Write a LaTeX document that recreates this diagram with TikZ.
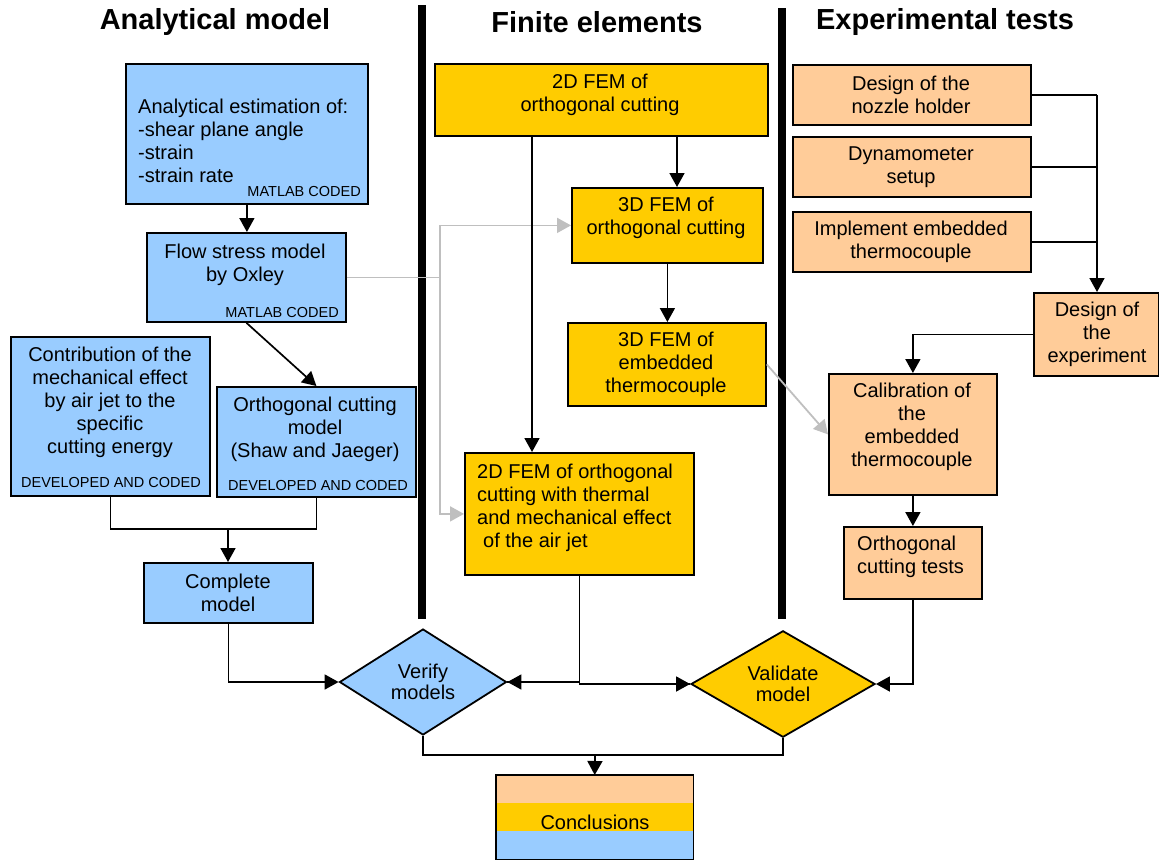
\documentclass[tikz,border=0pt]{standalone}
\usepackage{fontspec}
\setmainfont{Liberation Sans}
\usetikzlibrary{arrows.meta,shapes.geometric,calc}
\definecolor{cblue}{HTML}{99CCFF}
\definecolor{cgold}{HTML}{FFCC00}
\definecolor{cpeach}{HTML}{FFCC99}
\definecolor{cgrey}{HTML}{BFBFBF}
\tikzset{
  box/.style={draw=black, line width=1.8pt, inner sep=0pt, anchor=north west},
  txt/.style={inner sep=0pt, font=\fontsize{20}{23}\selectfont},
  tag/.style={inner sep=0pt, font=\fontsize{14.5}{16}\selectfont},
  head/.style={inner sep=0pt, font=\fontsize{29}{33}\selectfont\bfseries},
  conn/.style={draw=black, line width=1.7pt},
  arr/.style={conn, -{Triangle[length=14pt,width=15pt]}},
  gconn/.style={draw=cgrey, line width=1.8pt},
  garr/.style={gconn, -{Triangle[length=14pt,width=15pt]}},
  dia/.style={diamond, draw=black, line width=1.8pt, inner sep=0pt, align=center,
    font=\fontsize{20}{21}\selectfont},
  bar/.style={line width=8pt}
}
\begin{document}
\begin{tikzpicture}[x=1pt,y=-1pt]
\useasboundingbox (0,0) rectangle (1159,862);

% headers
\node[head] (h1) at (215,22) {Analytical model};
\node[head] (h2) at (597,22) {Finite elements};
\node[head] (h3) at (945,22) {Experimental tests};

% separator bars
\draw[bar] (422,5) -- (422,619);
\draw[bar] (782,8) -- (782,619);

% ---------------- Analytical column
\node[box, fill=cblue, minimum width=242pt, minimum height=140pt] (ana) at (125,63) {};
\node[txt, align=left, anchor=west] (anat) at (138,141) {Analytical estimation of:\\-shear plane angle\\-strain\\-strain rate};
\node[tag, anchor=east] (anatag) at (361,192) {MATLAB CODED};

\node[box, fill=cblue, minimum width=199pt, minimum height=89pt] (flow) at (146,232) {};
\node[txt, align=center] (flowt) at (245,265) {Flow stress model\\by Oxley};
\node[tag, anchor=east] (flowtag) at (339,313) {MATLAB CODED};

\node[box, fill=cblue, minimum width=199pt, minimum height=159pt] (contrib) at (10,336) {};
\node[txt, align=center] (contribt) at (110,402) {Contribution of the\\mechanical effect\\by air jet to the\\specific\\cutting energy};
\node[tag] (contribtag) at (111,483) {DEVELOPED AND CODED};

\node[box, fill=cblue, minimum width=199pt, minimum height=110pt] (orth) at (216,386) {};
\node[txt, align=center] (orttht) at (315,429) {Orthogonal cutting\\model\\(Shaw and Jaeger)};
\node[tag] (orthtag) at (318,486) {DEVELOPED AND CODED};

\node[box, fill=cblue, minimum width=169pt, minimum height=60pt] (complete) at (143,562) {};
\node[txt, align=center] (completet) at (228,593) {Complete\\model};

% ---------------- FEM column
\node[box, fill=cgold, minimum width=333pt, minimum height=72pt] (fem2) at (434,63) {};
\node[txt, align=center] (fem2t) at (600,95) {2D FEM of\\orthogonal cutting};

\node[box, fill=cgold, minimum width=191pt, minimum height=75pt] (fem3) at (571,187) {};
\node[txt, align=center] (fem3t) at (666,218) {3D FEM of\\orthogonal cutting};

\node[box, fill=cgold, minimum width=198pt, minimum height=83pt] (fem3e) at (567,322) {};
\node[txt, align=center] (fem3et) at (666,364) {3D FEM of\\embedded\\thermocouple};

\node[box, fill=cgold, minimum width=229pt, minimum height=122pt] (fem2b) at (464,452) {};
\node[txt, align=left, anchor=west] (fem2bt) at (477,508) {2D FEM of orthogonal\\cutting with thermal\\and mechanical effect\\\hspace*{6pt}of the air jet};

% ---------------- Experimental column
\node[box, fill=cpeach, minimum width=238pt, minimum height=60pt] (nozzle) at (792,64) {};
\node[txt, align=center] (nozzlet) at (911,95) {Design of the\\nozzle holder};

\node[box, fill=cpeach, minimum width=238pt, minimum height=60pt] (dyn) at (792,136) {};
\node[txt, align=center] (dynt) at (911,167) {Dynamometer\\setup};

\node[box, fill=cpeach, minimum width=238pt, minimum height=60pt] (impl) at (792,211) {};
\node[txt, align=center] (implt) at (911,242) {Implement embedded\\thermocouple};

\node[box, fill=cpeach, minimum width=125pt, minimum height=83pt] (desexp) at (1033,292) {};
\node[txt, align=center] (desexpt) at (1097,334) {Design of\\the\\experiment};

\node[box, fill=cpeach, minimum width=168pt, minimum height=121pt] (calib) at (828,373) {};
\node[txt, align=center] (calibt) at (912,427) {Calibration of\\the\\embedded\\thermocouple};

\node[box, fill=cpeach, minimum width=138pt, minimum height=72pt] (tests) at (843,526) {};
\node[txt, align=left, anchor=west] (testst) at (857,557) {Orthogonal\\cutting tests};

% ---------------- decisions
\node[dia, fill=cblue, minimum width=167pt, minimum height=106pt] (verify) at (423,682) {Verify\\models};
\node[dia, fill=cgold, minimum width=184pt, minimum height=106pt] (validate) at (783,684) {Validate\\model};

% ---------------- conclusions
\node[inner sep=0pt, minimum width=197pt, minimum height=84pt, anchor=north west] (concl) at (496,775) {};
\fill[cpeach] (496,775) rectangle (693,803);
\fill[cgold] (496,803) rectangle (693,831);
\node[txt, anchor=base] (conclt) at (595,829) {Conclusions};
\fill[cblue] (496,831) rectangle (693,859);
\draw[line width=1.8pt] (concl.north west) rectangle (concl.south east);

% ---------------- connectors
\coordinate (xa) at (532,0);
\coordinate (xb) at (677,0);
\coordinate (xg) at (440,0);
\coordinate (xr) at (1097,0);
\coordinate (jl) at (228,529);
\coordinate (jc) at (595,755);

\draw[arr] (ana.south) -- (ana.south |- flow.north);
\draw[arr] (flow.south) -- (orth.north);
\draw[conn] (contrib.south) |- (jl) -| (orth.south);
\draw[arr] (jl) -- (jl |- complete.north);
\draw[arr] (complete.south) |- (verify.west);

\draw[gconn] (flow.east) -- (flow.east -| xg);
\draw[garr] (flow.east -| xg) |- (fem3.west);
\draw[garr] (flow.east -| xg) |- (fem2b.west);

\draw[arr] (fem2.south -| xb) -- (xb |- fem3.north);
\draw[arr] (fem3.south) -- (fem3.south |- fem3e.north);
\draw[arr] (fem2.south -| xa) -- (xa |- fem2b.north);
\draw[garr] (fem3e.east) -- (calib.west);

\draw[conn] (fem2b.south) |- (verify.east);
\draw[arr] (fem2b.south |- verify.east) -- (verify.east);
\draw[conn] (fem2b.south |- verify.east) |- (validate.west);
\draw[arr] (fem2b.south |- validate.west) -- (validate.west);

\draw[conn] (nozzle.east) -- (nozzle.east -| xr);
\draw[conn] (dyn.east) -- (dyn.east -| xr);
\draw[conn] (impl.east) -- (impl.east -| xr);
\draw[arr] (nozzle.east -| xr) -- (xr |- desexp.north);
\draw[arr] (desexp.west) -| (calib.north);
\draw[arr] (calib.south) -- (tests.north);
\draw[arr] (tests.south) |- (validate.east);

\draw[conn] (verify.south) |- (jc);
\draw[conn] (validate.south) |- (jc);
\draw[arr] (jc) -- (concl.north);
\end{tikzpicture}
\end{document}
